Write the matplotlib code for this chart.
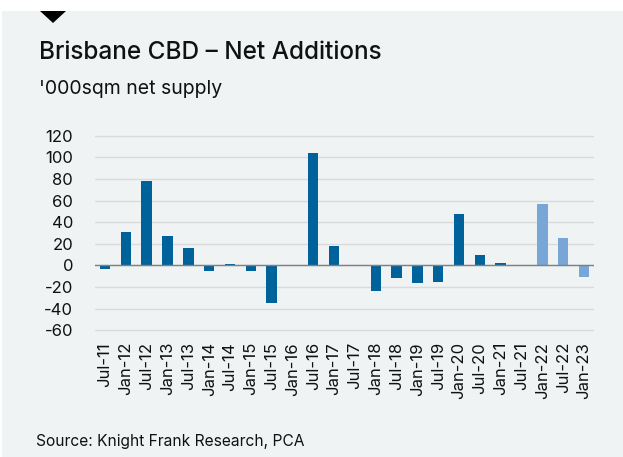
import matplotlib.pyplot as plt
from matplotlib.patches import Rectangle, Polygon

# data
periods = ['Jul-11', 'Jan-12', 'Jul-12', 'Jan-13', 'Jul-13', 'Jan-14', 'Jul-14', 'Jan-15',
           'Jul-15', 'Jan-16', 'Jul-16', 'Jan-17', 'Jul-17', 'Jan-18', 'Jul-18', 'Jan-19',
           'Jul-19', 'Jan-20', 'Jul-20', 'Jan-21', 'Jul-21', 'Jan-22', 'Jul-22', 'Jan-23']
net_supply = [-3, 31, 78, 27, 16, -5, 1, -5, -35, -1, 104, 18, 0, -24, -12, -16,
              -15, 48, 10, 2.5, 0, 57, 25, -11]
is_forecast = [False] * 21 + [True] * 3

dark_blue = '#00629b'
light_blue = '#78a6d7'
bg = '#eff3f3'

plt.rcParams['font.family'] = ['Inter', 'DejaVu Sans']
plt.rcParams['axes.unicode_minus'] = False

fig = plt.figure(figsize=(6.23, 4.57), dpi=100)
fig.patch.set_facecolor('white')
# grey panel with the small marker on top
fig.patches.append(Rectangle((2 / 623, 0), 1, 1 - 11 / 457, transform=fig.transFigure,
                             facecolor=bg, edgecolor='none', zorder=-5))
fig.patches.append(Polygon([(40 / 623, 1 - 11 / 457), (66 / 623, 1 - 11 / 457), (53 / 623, 1 - 23 / 457)],
                           closed=True, transform=fig.transFigure, facecolor='black',
                           edgecolor='none', zorder=-4))

fig.text(39 / 623, 1 - 59 / 457, 'Brisbane CBD \u2013 Net Additions', fontsize=17.5,
         fontweight='medium', color='#111111', va='baseline')
fig.text(39 / 623, 1 - 94 / 457, "'000sqm net supply", fontsize=14, color='#111111', va='baseline')
fig.text(36 / 623, 1 - 446 / 457, 'Source: Knight Frank Research, PCA', fontsize=11.2,
         color='#111111', va='baseline')

ax = fig.add_axes([94.6 / 623, 0.273, (594.4 - 94.6) / 623, 0.4344])
ax.set_facecolor(bg)
ax.set_zorder(2)

x = list(range(len(periods)))
colors = [light_blue if f else dark_blue for f in is_forecast]
ax.bar(x, net_supply, width=0.5, color=colors, zorder=3)
ax.axhline(0, color='#808080', lw=1, zorder=4)

ax.set_xlim(-0.5, len(periods) - 0.5)
ax.set_ylim(-62, 122)
ax.set_yticks(range(-60, 121, 20))
ax.grid(axis='y', color='#dadada', lw=1, zorder=0)
ax.set_axisbelow(True)
ax.set_xticks(x)
ax.set_xticklabels(periods, rotation=90)
ax.tick_params(axis='both', length=0, labelsize=12, colors='#111111')
ax.tick_params(axis='y', pad=15.5)
ax.tick_params(axis='x', pad=7)
for s in ax.spines.values():
    s.set_visible(False)

fig.savefig('out.png', dpi=100, facecolor=fig.get_facecolor())
